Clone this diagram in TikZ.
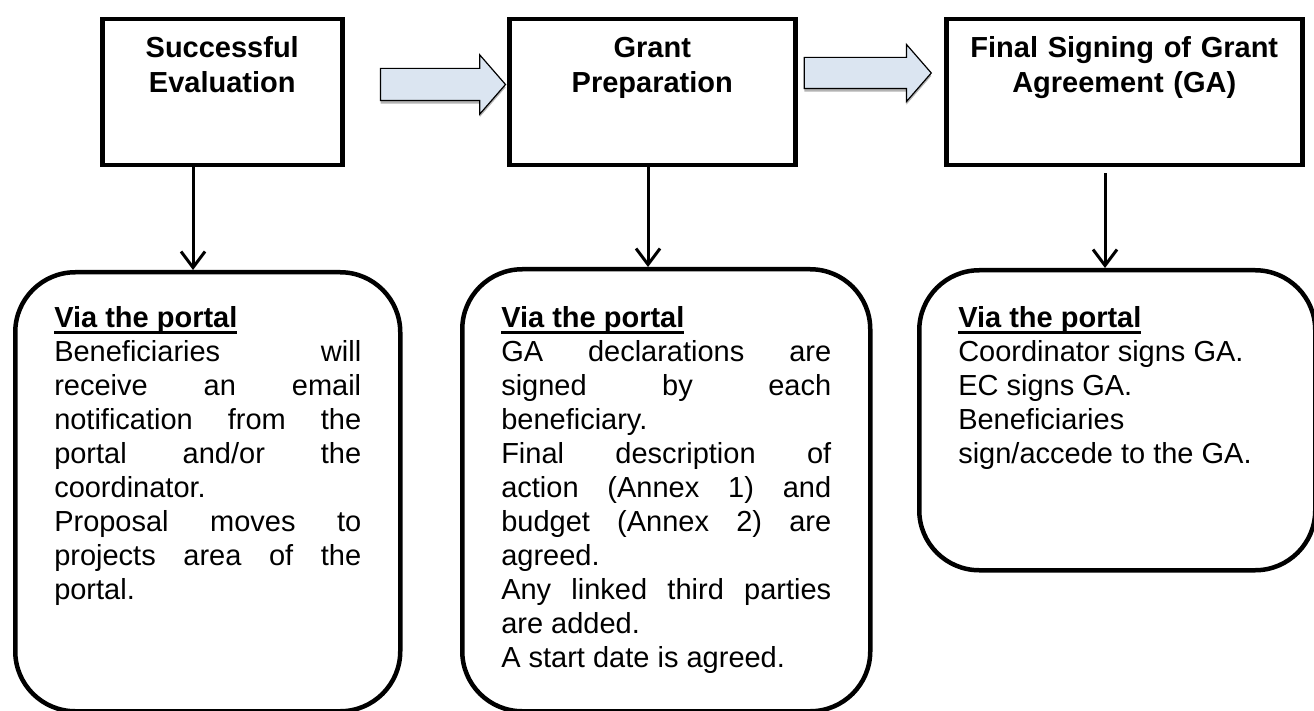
\documentclass[tikz,border=0pt]{standalone}
\usepackage{fontspec}
\setmainfont{Liberation Sans}
\usetikzlibrary{arrows.meta,shapes.arrows,shadows}

\setlength{\parindent}{0pt}
\tolerance=10000
\hbadness=10000
\hyphenpenalty=10000

\newcommand{\viahead}[1]{\setbox0\hbox{\bfseries #1}\rlap{\vrule width\wd0 height -4pt depth 6.5pt}\box0}

\tikzset{
  stage/.style={draw, line width=4.5pt, anchor=north west, inner sep=0pt, align=center,
    font=\bfseries\fontsize{29}{35}\selectfont, text height=38pt, text depth=108pt},
  portal/.style={draw, line width=4.5pt, rounded corners=60pt, anchor=north west,
    inner ysep=0pt, inner xsep=39pt, align=justify, font=\fontsize{29}{34}\selectfont},
  nextstep/.style={single arrow, draw, line width=1.2pt, fill=arrowblue, inner xsep=0pt,
    single arrow tip angle=98, text height=0pt, text depth=0pt,
    drop shadow={shadow xshift=0pt, shadow yshift=-3pt, fill=gray, opacity=0.6}},
  godown/.style={-{Straight Barb[length=16pt,width=24pt]}, line width=3pt},
}

\begin{document}
\begin{tikzpicture}[x=1pt,y=-1pt]
  \definecolor{arrowblue}{RGB}{219,229,241}
  \useasboundingbox (0,0) rectangle (1314,711);

  \node[stage, text width=240pt] (eval) at (100,17) {Successful\\Evaluation};
  \node[stage, text width=286pt] (prep) at (507,17) {Grant\\Preparation};
  \node[stage, text width=356pt] (sign) at (944,17) {Final Signing of Grant\\Agreement (GA)};

  \node[nextstep, minimum height=125pt, inner ysep=15.5pt, single arrow head extend=13.5pt] (next1) at (436,84.5) {};
  \node[nextstep, minimum height=127pt, inner ysep=15pt, single arrow head extend=13pt] (next2) at (861,73) {};

  \node[portal, text width=307pt, text height=55pt, text depth=384pt] (evalbox) at (13,270) {%
    \viahead{Via the portal}\par
    Beneficiaries will\linebreak receive an email\linebreak notification from the\linebreak portal and/or the\linebreak coordinator.\par
    Proposal moves to\linebreak projects area of the\linebreak portal.};
  \node[portal, text width=330pt, text height=58pt, text depth=384pt] (prepbox) at (460,267) {%
    \viahead{Via the portal}\par
    GA declarations are\linebreak signed by each\linebreak beneficiary.\par
    Final description of\linebreak action (Annex 1) and\linebreak budget (Annex 2) are\linebreak agreed.\par
    Any linked third parties\linebreak are added.\par
    A start date is agreed.};
  \node[portal, text width=318pt, text height=57pt, text depth=243pt] (signbox) at (917,268) {%
    \viahead{Via the portal}\par
    Coordinator signs GA.\par
    EC signs GA.\par
    Beneficiaries\linebreak sign/accede to the GA.};

  \coordinate (x1) at (193,0);
  \coordinate (x2) at (648,0);
  \coordinate (x3) at (1105,0);
  \draw[godown] (eval.south -| x1) -- (evalbox.north -| x1);
  \draw[godown] (prep.south -| x2) -- (prepbox.north -| x2);
  \draw[godown, shorten <=6pt] (sign.south -| x3) -- (signbox.north -| x3);
\end{tikzpicture}
\end{document}
